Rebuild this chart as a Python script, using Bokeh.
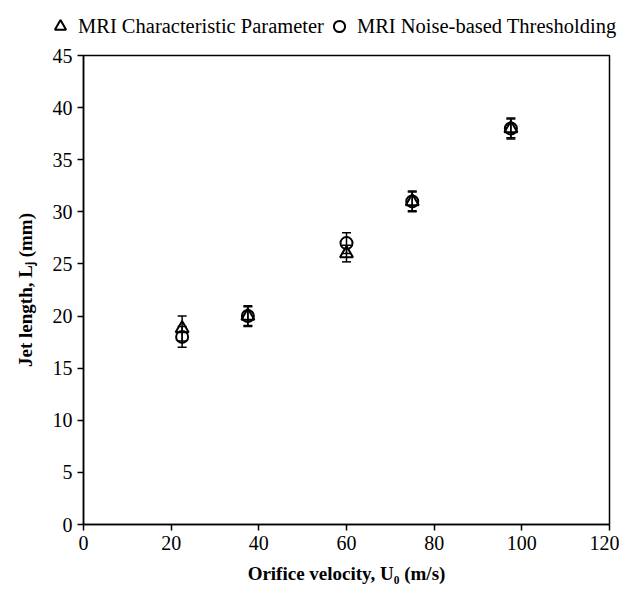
from bokeh.plotting import figure
from bokeh.layouts import column, row
from bokeh.models import Range1d, Legend, LegendItem, Whisker, ColumnDataSource, TeeHead, FixedTicker
from bokeh.embed import file_html
from bokeh.resources import INLINE

# Data
velocity = [22.5, 37.5, 60.0, 75.0, 97.5]
char_param = [18.8, 20.0, 26.0, 31.0, 38.0]
char_err = [1.2, 0.9, 0.8, 0.9, 0.9]
noise_thr = [18.0, 20.0, 27.0, 31.0, 38.0]
noise_err = [1.0, 1.0, 1.0, 1.0, 1.0]
series_names = ["MRI Characteristic Parameter", "MRI Noise-based Thresholding"]
x_ticks = [0, 20, 40, 60, 80, 100, 120]
y_ticks = [0, 5, 10, 15, 20, 25, 30, 35, 40, 45]

FONT = "Liberation Serif"

TRI = dict(marker="triangle", size=13, fill_color="white", fill_alpha=0.0,
           line_color="black", line_width=2)
CIR = dict(marker="circle", size=12, fill_color="white", fill_alpha=0.0,
           line_color="black", line_width=2)

s1 = ColumnDataSource(dict(x=velocity, y=char_param,
                           lo=[v - e for v, e in zip(char_param, char_err)],
                           hi=[v + e for v, e in zip(char_param, char_err)]))
s2 = ColumnDataSource(dict(x=velocity, y=noise_thr,
                           lo=[v - e for v, e in zip(noise_thr, noise_err)],
                           hi=[v + e for v, e in zip(noise_thr, noise_err)]))

# ---- legend strip (above the plot); its view range excludes the data ----
lg = figure(width=619, height=43, output_backend="svg", toolbar_location=None,
            x_axis_type=None, y_axis_type=None, x_range=Range1d(-2, -1), y_range=Range1d(-2, -1),
            min_border_left=0, min_border_right=0, min_border_top=0, min_border_bottom=0)
lg.outline_line_color = None
lg.xgrid.visible = False
lg.ygrid.visible = False
lr1 = lg.scatter("x", "y", source=s1, **TRI)
lr2 = lg.scatter("x", "y", source=s2, **CIR)
legend = Legend(items=[LegendItem(label=series_names[0], renderers=[lr1]),
                       LegendItem(label=series_names[1], renderers=[lr2])],
                orientation="horizontal", location=(46, 3),
                label_text_font=FONT, label_text_font_size="20.5px", label_text_color="black",
                border_line_color=None, background_fill_alpha=0,
                glyph_width=28, glyph_height=28, label_standoff=4, spacing=1,
                padding=0, margin=0)
lg.add_layout(legend, "center")

# ---- main plot ----
p = figure(width=619, height=543, output_backend="svg", toolbar_location=None,
           x_range=Range1d(0, 120), y_range=Range1d(0, 45),
           min_border_left=83, min_border_right=10, min_border_top=12, min_border_bottom=58)

p.xgrid.visible = False
p.ygrid.visible = False
p.outline_line_color = "black"
p.outline_line_width = 1.5

for s in (s1, s2):
    w = Whisker(source=s, base="x", lower="lo", upper="hi", dimension="height",
                line_color="black", line_width=1.5,
                upper_head=TeeHead(size=9, line_color="black", line_width=1.5),
                lower_head=TeeHead(size=9, line_color="black", line_width=1.5))
    p.add_layout(w)

p.scatter("x", "y", source=s1, **TRI)
p.scatter("x", "y", source=s2, **CIR)

for ax in (p.xaxis[0], p.yaxis[0]):
    ax.major_label_text_font = FONT
    ax.major_label_text_font_size = "20px"
    ax.major_label_text_color = "black"
    ax.axis_label_text_font = FONT
    ax.axis_label_text_font_size = "19px"
    ax.axis_label_text_font_style = "bold"
    ax.axis_label_text_color = "black"
    ax.axis_line_color = "black"
    ax.axis_line_width = 1.5
    ax.major_tick_line_color = "black"
    ax.major_tick_line_width = 1.5
    ax.major_tick_in = 0
    ax.major_tick_out = 6
    ax.minor_tick_line_color = None

p.xaxis[0].ticker = FixedTicker(ticks=x_ticks)
p.yaxis[0].ticker = FixedTicker(ticks=y_ticks)
p.xaxis[0].axis_label = "Orifice velocity, U\u2080 (m/s)"
p.yaxis[0].axis_label = "Jet length, L\u2C7C (mm)"
p.xaxis[0].axis_label_standoff = 10
p.yaxis[0].axis_label_standoff = 14

layout = column(row(lg), p, spacing=0)
open("out.html", "w").write(file_html(layout, INLINE))
